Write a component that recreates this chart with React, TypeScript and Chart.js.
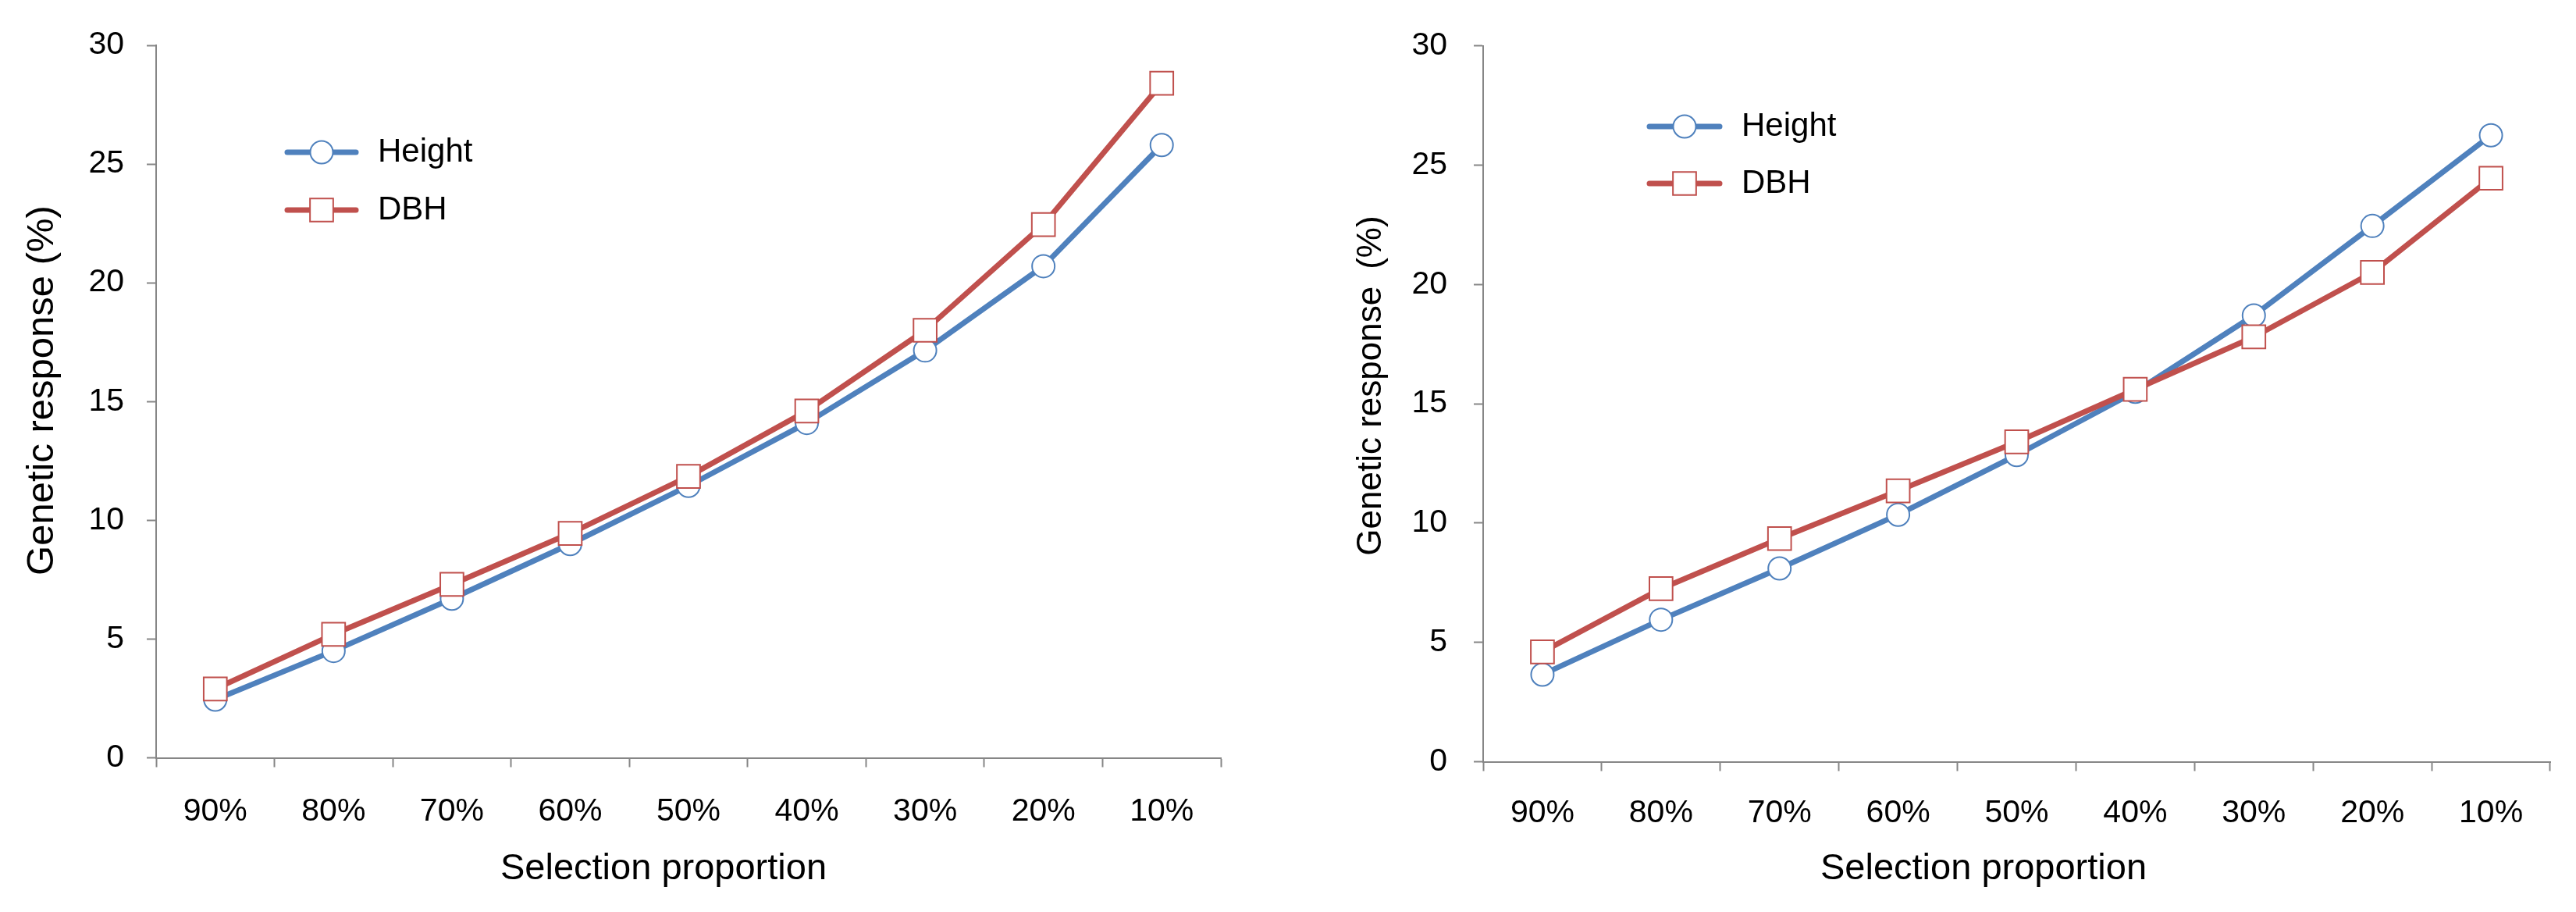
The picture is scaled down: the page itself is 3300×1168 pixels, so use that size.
import React, { useEffect, useRef } from "react";
import { Chart, registerables } from "chart.js";

Chart.register(...registerables);

// ---------------- data ----------------
const categories = ["90%", "80%", "70%", "60%", "50%", "40%", "30%", "20%", "10%"];
const seriesNames = ["Height", "DBH"];
const leftHeight = [2.45, 4.5, 6.7, 9.0, 11.45, 14.1, 17.15, 20.7, 25.8];
const leftDBH = [2.9, 5.2, 7.3, 9.45, 11.85, 14.6, 18.0, 22.45, 28.4];
const rightHeight = [3.65, 5.95, 8.1, 10.35, 12.85, 15.5, 18.7, 22.45, 26.25];
const rightDBH = [4.6, 7.25, 9.35, 11.35, 13.4, 15.6, 17.8, 20.5, 24.45];
const yMin = 0;
const yMax = 30;
const yStep = 5;
const xTitle = "Selection proportion";
const yTitleLeft = "Genetic response (%)";
const yTitleRight = "Genetic response\u2002(%)";

// ---------------- styles ----------------
const FONT = "'Liberation Sans', Arial, 'Noto Sans CJK SC', sans-serif";
const BLUE = "#4F81BD";
const RED = "#C0504D";
const AXIS = "#868686";
const W = 1650;
const H = 1168;

const lineLegend = {
  id: "lineLegend",
  afterDraw(chart: any, _args: any, opts: any) {
    const ctx = chart.ctx as CanvasRenderingContext2D;
    ctx.save();
    chart.data.datasets.forEach((ds: any, i: number) => {
      const y = opts.y + i * opts.rowGap;
      ctx.strokeStyle = ds.borderColor;
      ctx.lineWidth = ds.borderWidth;
      ctx.lineCap = "round";
      ctx.beginPath();
      ctx.moveTo(opts.x1, y);
      ctx.lineTo(opts.x2, y);
      ctx.stroke();
      const cx = (opts.x1 + opts.x2) / 2;
      ctx.fillStyle = ds.pointBackgroundColor;
      ctx.strokeStyle = ds.pointBorderColor;
      ctx.lineWidth = ds.pointBorderWidth;
      ctx.beginPath();
      if (ds.pointStyle === "rect") {
        const s = Math.SQRT1_2 * ds.pointRadius;
        ctx.rect(cx - s, y - s, 2 * s, 2 * s);
      } else {
        ctx.arc(cx, y, ds.pointRadius, 0, Math.PI * 2);
      }
      ctx.fill();
      ctx.stroke();
      ctx.fillStyle = "#000";
      ctx.font = `${opts.fontSize}px ${FONT}`;
      ctx.textAlign = "left";
      ctx.textBaseline = "middle";
      ctx.fillText(ds.label, opts.textX, y);
    });
    ctx.restore();
  },
};

const axisTitles = {
  id: "axisTitles",
  afterDraw(chart: any, _args: any, opts: any) {
    const ctx = chart.ctx as CanvasRenderingContext2D;
    ctx.save();
    ctx.fillStyle = "#000";
    ctx.textAlign = "center";
    ctx.textBaseline = "middle";
    ctx.font = `${opts.xSize}px ${FONT}`;
    ctx.fillText(opts.xText, opts.xX, opts.xY);
    ctx.translate(opts.yX, opts.yY);
    ctx.rotate(-Math.PI / 2);
    ctx.font = `${opts.ySize}px ${FONT}`;
    ctx.fillText(opts.yText, 0, 0);
    ctx.restore();
  },
};

type Layout = {
  heights: number[];
  dbh: number[];
  padTop: number;
  padRight: number;
  yWidth: number;
  xHeight: number;
  yTickPad: number;
  xTickPad: number;
  legend: any;
  titles: any;
};

function makeConfig(L: Layout): any {
  const gridCommon = {
    display: true,
    drawOnChartArea: false,
    drawTicks: true,
    tickLength: 12,
    tickColor: AXIS,
    tickWidth: 2,
  };
  return {
    type: "line",
    data: {
      labels: categories,
      datasets: [
        {
          label: seriesNames[0],
          data: L.heights,
          order: 1,
          borderColor: BLUE,
          borderWidth: 7,
          borderJoinStyle: "round",
          borderCapStyle: "round",
          pointStyle: "circle",
          pointRadius: 14.5,
          pointHoverRadius: 14.5,
          pointBackgroundColor: "#FFFFFF",
          pointBorderColor: BLUE,
          pointBorderWidth: 2,
          tension: 0,
          fill: false,
        },
        {
          label: seriesNames[1],
          data: L.dbh,
          order: 0,
          borderColor: RED,
          borderWidth: 7,
          borderJoinStyle: "round",
          borderCapStyle: "round",
          pointStyle: "rect",
          pointRadius: 21,
          pointHoverRadius: 21,
          pointBackgroundColor: "#FFFFFF",
          pointBorderColor: RED,
          pointBorderWidth: 2,
          tension: 0,
          fill: false,
        },
      ],
    },
    options: {
      responsive: false,
      animation: false,
      devicePixelRatio: 1,
      events: [],
      layout: { padding: { top: L.padTop, right: L.padRight, left: 0, bottom: 0 } },
      scales: {
        x: {
          type: "category",
          offset: true,
          grid: { ...gridCommon, offset: true },
          border: { display: true, color: AXIS, width: 2 },
          ticks: { color: "#000", font: { family: FONT, size: 41 }, padding: L.xTickPad, maxRotation: 0, autoSkip: false },
          title: { display: false },
          afterFit: (s: any) => {
            s.height = L.xHeight;
          },
        },
        y: {
          type: "linear",
          min: yMin,
          max: yMax,
          grid: gridCommon,
          border: { display: true, color: AXIS, width: 2 },
          ticks: { stepSize: yStep, color: "#000", font: { family: FONT, size: 41 }, padding: L.yTickPad },
          title: { display: false },
          afterFit: (s: any) => {
            s.width = L.yWidth;
          },
        },
      },
      plugins: {
        legend: { display: false },
        tooltip: { enabled: false },
        lineLegend: L.legend,
        axisTitles: L.titles,
      },
    },
    plugins: [lineLegend, axisTitles],
  };
}

const leftLayout: Layout = {
  heights: leftHeight,
  dbh: leftDBH,
  padTop: 58,
  padRight: 86,
  yWidth: 200,
  xHeight: 197.5,
  yTickPad: 29,
  xTickPad: 33,
  legend: { x1: 368, x2: 456, y: 195, rowGap: 74, textX: 484, fontSize: 42 },
  titles: { xText: xTitle, xX: 850, xY: 1113, xSize: 47, yText: yTitleLeft, yX: 54, yY: 500, ySize: 49 },
};

const rightLayout: Layout = {
  heights: rightHeight,
  dbh: rightDBH,
  padTop: 45,
  padRight: 33,
  yWidth: 250,
  xHeight: 192.5,
  yTickPad: 34,
  xTickPad: 30,
  legend: { x1: 463, x2: 553, y: 162, rowGap: 73, textX: 581, fontSize: 42 },
  titles: { xText: xTitle, xX: 891, xY: 1113, xSize: 47, yText: yTitleRight, yX: 107, yY: 494, ySize: 44 },
};

function LineChart({ layout, left }: { layout: Layout; left: number }) {
  const ref = useRef<HTMLCanvasElement>(null);
  useEffect(() => {
    const chart = new Chart(ref.current as HTMLCanvasElement, makeConfig(layout));
    return () => chart.destroy();
  }, [layout]);
  return (
    <canvas
      ref={ref}
      width={W}
      height={H}
      style={{ position: "absolute", left, top: 0, width: W, height: H }}
    />
  );
}

export default function App() {
  return (
    <div style={{ position: "absolute", left: 0, top: 0, width: 3300, height: 1168, background: "#fff", overflow: "hidden" }}>
      <LineChart layout={leftLayout} left={0} />
      <LineChart layout={rightLayout} left={1650} />
    </div>
  );
}
